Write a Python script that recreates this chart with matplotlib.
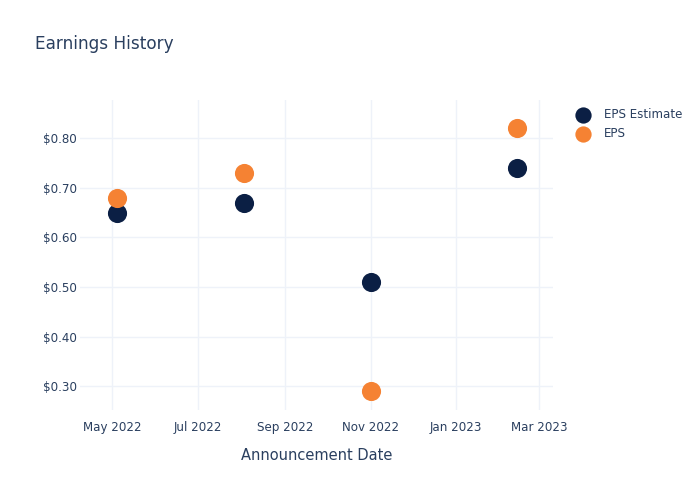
import numpy as np
import pandas as pd
import matplotlib
matplotlib.use("Agg")
import matplotlib.pyplot as plt
import matplotlib.dates as mdates
from matplotlib.ticker import FuncFormatter

# --- data ---
dates = pd.to_datetime(["2022-05-04", "2022-08-03", "2022-11-01", "2023-02-13"])
eps_estimate = [0.65, 0.67, 0.51, 0.74]
eps_actual = [0.68, 0.73, 0.29, 0.82]

TEXT = "#2a3f5f"
GRID = "#eef2f9"

plt.rcParams["font.family"] = ["DejaVu Sans"]

fig = plt.figure(figsize=(7, 5), dpi=100)
ax = fig.add_axes([0.1143, 0.18, 0.676, 0.62])

ax.scatter(dates, eps_estimate, s=190, color="#0b1f44", label="EPS Estimate", zorder=3, linewidths=0)
ax.scatter(dates, eps_actual, s=190, color="#f58233", label="EPS", zorder=4, linewidths=0)

ax.set_xlim(pd.Timestamp("2022-04-08"), pd.Timestamp("2023-03-11"))
ax.set_ylim(0.252, 0.877)

ax.xaxis.set_major_locator(mdates.MonthLocator(bymonth=[1, 3, 5, 7, 9, 11]))
ax.xaxis.set_major_formatter(mdates.DateFormatter("%b %Y"))
ax.set_yticks([0.3, 0.4, 0.5, 0.6, 0.7, 0.8])
ax.yaxis.set_major_formatter(FuncFormatter(lambda v, p: f"${v:.2f}"))

ax.grid(True, color=GRID, linewidth=1)
ax.set_axisbelow(True)
for s in ax.spines.values():
    s.set_visible(False)
ax.tick_params(length=0, colors=TEXT, labelsize=8.6)
ax.tick_params(axis="y", pad=2)
ax.tick_params(axis="x", pad=8)

ax.set_xlabel("Announcement Date", color=TEXT, fontsize=10.5, labelpad=10)
fig.text(0.05, 0.912, "Earnings History", color=TEXT, fontsize=12.2, va="center")

ax.legend(loc="upper left", bbox_to_anchor=(1.027, 0.99), frameon=False,
          labelcolor=TEXT, fontsize=8.6, handletextpad=0.8, borderaxespad=0,
          labelspacing=0.55, markerscale=0.85)

fig.savefig("out.png", dpi=100, facecolor="white")
